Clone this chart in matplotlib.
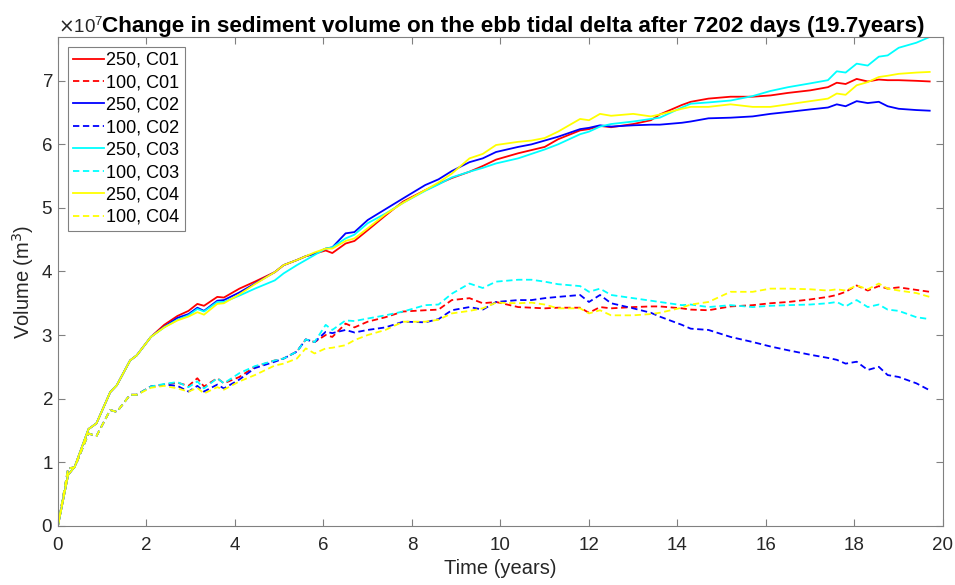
"""
Ebb tidal delta sediment volume change, 8 runs (250 / 100, C01-C04)
"""
import numpy as np
import matplotlib
matplotlib.use('Agg')
import matplotlib.pyplot as plt
from matplotlib.ticker import ScalarFormatter

plt.rcParams['font.family'] = ['Liberation Sans', 'DejaVu Sans']

# time axis (years)
t = [0, 0.23, 0.38, 0.69, 0.87, 1.18, 1.33, 1.63, 1.78, 2.1, 2.4, 2.7, 2.95, 3.15, 3.3,
     3.6, 3.75, 4.1, 4.45, 4.9, 5.1, 5.4, 5.6, 5.8, 6.05, 6.2, 6.5, 6.7, 7.0, 7.4,
     7.8, 8.3, 8.6, 8.9, 9.3, 9.6, 9.9, 10.4, 10.7, 11.0, 11.3, 11.8, 12.0, 12.25, 12.5,
     13.0, 13.4, 13.6, 14.1, 14.3, 14.7, 15.2, 15.7, 16.1, 16.5, 17.0, 17.4, 17.6, 17.8,
     18.05, 18.3, 18.55, 18.75, 19.0, 19.4, 19.7]

# volumes in 1e7 m3
c01_250 = [0, 0.80, 0.93, 1.52, 1.61, 2.10, 2.21, 2.60, 2.68, 2.97, 3.16, 3.30, 3.38, 3.49, 3.46,
           3.60, 3.59, 3.73, 3.84, 3.99, 4.10, 4.18, 4.24, 4.28, 4.33, 4.29, 4.44, 4.48, 4.65, 4.88,
           5.10, 5.28, 5.38, 5.47, 5.57, 5.66, 5.76, 5.86, 5.91, 5.96, 6.08, 6.22, 6.24, 6.29, 6.27,
           6.32, 6.38, 6.47, 6.62, 6.67, 6.72, 6.75, 6.75, 6.77, 6.81, 6.85, 6.90, 6.97, 6.95,
           7.03, 6.99, 7.02, 7.01, 7.01, 7.00, 6.99]
c01_100 = [0, 0.90, 0.92, 1.45, 1.41, 1.82, 1.79, 2.06, 2.06, 2.19, 2.22, 2.25, 2.20, 2.32, 2.19,
           2.32, 2.24, 2.34, 2.50, 2.60, 2.63, 2.74, 2.93, 2.89, 3.00, 2.97, 3.18, 3.12, 3.21, 3.28,
           3.37, 3.39, 3.40, 3.55, 3.58, 3.50, 3.52, 3.44, 3.43, 3.42, 3.43, 3.43, 3.35, 3.44, 3.42,
           3.44, 3.45, 3.45, 3.42, 3.40, 3.39, 3.45, 3.47, 3.50, 3.52, 3.56, 3.60, 3.63, 3.68,
           3.78, 3.70, 3.77, 3.73, 3.75, 3.71, 3.68]
c02_250 = [0, 0.80, 0.93, 1.52, 1.61, 2.10, 2.21, 2.60, 2.68, 2.97, 3.13, 3.27, 3.33, 3.43, 3.38,
           3.54, 3.55, 3.67, 3.81, 3.99, 4.10, 4.18, 4.24, 4.28, 4.36, 4.38, 4.60, 4.62, 4.81, 4.98,
           5.15, 5.36, 5.45, 5.58, 5.72, 5.78, 5.88, 5.96, 6.00, 6.06, 6.12, 6.24, 6.26, 6.30, 6.28,
           6.30, 6.31, 6.31, 6.34, 6.36, 6.41, 6.42, 6.44, 6.48, 6.51, 6.55, 6.58, 6.63, 6.60,
           6.68, 6.65, 6.67, 6.60, 6.56, 6.54, 6.53]
c02_100 = [0, 0.90, 0.92, 1.45, 1.41, 1.82, 1.79, 2.06, 2.06, 2.19, 2.22, 2.20, 2.11, 2.20, 2.11,
           2.22, 2.16, 2.30, 2.48, 2.58, 2.63, 2.74, 2.93, 2.89, 3.05, 3.03, 3.08, 3.04, 3.08, 3.12,
           3.21, 3.20, 3.25, 3.39, 3.44, 3.40, 3.52, 3.55, 3.55, 3.58, 3.60, 3.63, 3.52, 3.63, 3.50,
           3.42, 3.35, 3.29, 3.16, 3.10, 3.08, 2.97, 2.89, 2.82, 2.76, 2.69, 2.64, 2.61, 2.55,
           2.58, 2.45, 2.50, 2.37, 2.34, 2.24, 2.13]
c03_250 = [0, 0.80, 0.93, 1.52, 1.61, 2.10, 2.21, 2.60, 2.68, 2.97, 3.12, 3.24, 3.31, 3.41, 3.37,
           3.52, 3.52, 3.62, 3.73, 3.86, 3.97, 4.10, 4.18, 4.26, 4.36, 4.38, 4.52, 4.58, 4.76, 4.91,
           5.08, 5.27, 5.37, 5.48, 5.57, 5.63, 5.70, 5.78, 5.85, 5.92, 6.00, 6.16, 6.20, 6.28, 6.32,
           6.36, 6.40, 6.42, 6.58, 6.64, 6.66, 6.69, 6.76, 6.84, 6.90, 6.96, 7.01, 7.15, 7.13,
           7.27, 7.24, 7.38, 7.40, 7.52, 7.60, 7.69]
c03_100 = [0, 0.90, 0.92, 1.45, 1.41, 1.82, 1.79, 2.06, 2.06, 2.19, 2.23, 2.26, 2.18, 2.27, 2.16,
           2.32, 2.24, 2.40, 2.51, 2.60, 2.63, 2.74, 2.93, 2.89, 3.16, 3.08, 3.23, 3.22, 3.26, 3.31,
           3.37, 3.47, 3.48, 3.65, 3.81, 3.74, 3.84, 3.87, 3.87, 3.84, 3.80, 3.77, 3.68, 3.73, 3.63,
           3.58, 3.54, 3.52, 3.47, 3.48, 3.44, 3.47, 3.44, 3.46, 3.47, 3.48, 3.50, 3.52, 3.45,
           3.55, 3.44, 3.48, 3.40, 3.38, 3.28, 3.25]
c04_250 = [0, 0.80, 0.93, 1.52, 1.61, 2.10, 2.21, 2.60, 2.68, 2.97, 3.12, 3.23, 3.29, 3.36, 3.32,
           3.49, 3.50, 3.64, 3.80, 3.99, 4.10, 4.18, 4.24, 4.30, 4.36, 4.36, 4.48, 4.52, 4.68, 4.90,
           5.08, 5.28, 5.40, 5.54, 5.78, 5.85, 5.99, 6.04, 6.06, 6.10, 6.20, 6.40, 6.38, 6.48, 6.45,
           6.48, 6.44, 6.47, 6.56, 6.59, 6.59, 6.63, 6.59, 6.59, 6.63, 6.68, 6.72, 6.80, 6.78,
           6.93, 6.98, 7.06, 7.08, 7.11, 7.13, 7.14]
c04_100 = [0, 0.90, 0.92, 1.45, 1.41, 1.82, 1.79, 2.06, 2.06, 2.17, 2.20, 2.16, 2.11, 2.17, 2.08,
           2.18, 2.14, 2.27, 2.37, 2.52, 2.55, 2.63, 2.79, 2.71, 2.79, 2.80, 2.84, 2.92, 3.00, 3.08,
           3.21, 3.21, 3.24, 3.34, 3.38, 3.42, 3.51, 3.50, 3.51, 3.48, 3.42, 3.42, 3.34, 3.39, 3.31,
           3.31, 3.33, 3.35, 3.43, 3.48, 3.52, 3.68, 3.68, 3.73, 3.73, 3.72, 3.70, 3.72, 3.70,
           3.78, 3.72, 3.81, 3.73, 3.70, 3.66, 3.60]

series = [
    ('250, C01', c01_250, '#ff0000', '-'),
    ('100, C01', c01_100, '#ff0000', '--'),
    ('250, C02', c02_250, '#0000ff', '-'),
    ('100, C02', c02_100, '#0000ff', '--'),
    ('250, C03', c03_250, '#00ffff', '-'),
    ('100, C03', c03_100, '#00ffff', '--'),
    ('250, C04', c04_250, '#ffff00', '-'),
    ('100, C04', c04_100, '#ffff00', '--'),
]

fig = plt.figure(figsize=(9.55, 5.85), dpi=100)
ax = fig.add_axes([0.0607, 0.1014, 0.9267, 0.8354])

for label, vals, col, ls in series:
    y = np.array(vals) * 1e7
    if ls == '--':
        ax.plot(t, y, color=col, linestyle=ls, dashes=(3.5, 2), lw=1.3, label=label)
    else:
        ax.plot(t, y, color=col, linestyle=ls, lw=1.3, label=label)

ax.set_xlim(0, 20)
ax.set_ylim(0, 7.69e7)
ax.set_xticks(np.arange(0, 21, 2))
ax.set_yticks(np.arange(0, 8, 1) * 1e7)

fmt = ScalarFormatter(useMathText=True)
fmt.set_powerlimits((0, 0))
ax.yaxis.set_major_formatter(fmt)
ax.yaxis.get_offset_text().set_fontsize(13.5)
ax.yaxis.get_offset_text().set_color('#262626')

grey = '#262626'
for sp in ax.spines.values():
    sp.set_color('#808080')
    sp.set_linewidth(0.8)
ax.tick_params(direction='in', length=5, width=0.8, colors='#808080',
               labelcolor=grey, labelsize=13.5, top=True, right=True)
ax.tick_params(axis='x', pad=8)

ax.set_xlabel('Time (years)', fontsize=14.5, color=grey, labelpad=4)
ax.set_ylabel('Volume (m$^3$)', fontsize=14.5, color=grey, labelpad=4)
# fixed y so the title is not pushed above the x10^7 offset text
ax.set_title('Change in sediment volume on the ebb tidal delta after 7202 days (19.7years)',
             fontsize=16.2, fontweight='bold', pad=0, x=0.515, y=1.01)

leg = ax.legend(loc='upper left', fontsize=13, handlelength=1.7, handletextpad=0.15,
                labelspacing=0.3, borderpad=0.28, borderaxespad=0.55, fancybox=False,
                framealpha=1, edgecolor='#808080')
leg.get_frame().set_linewidth(0.8)

fig.savefig('out.png', dpi=100)
